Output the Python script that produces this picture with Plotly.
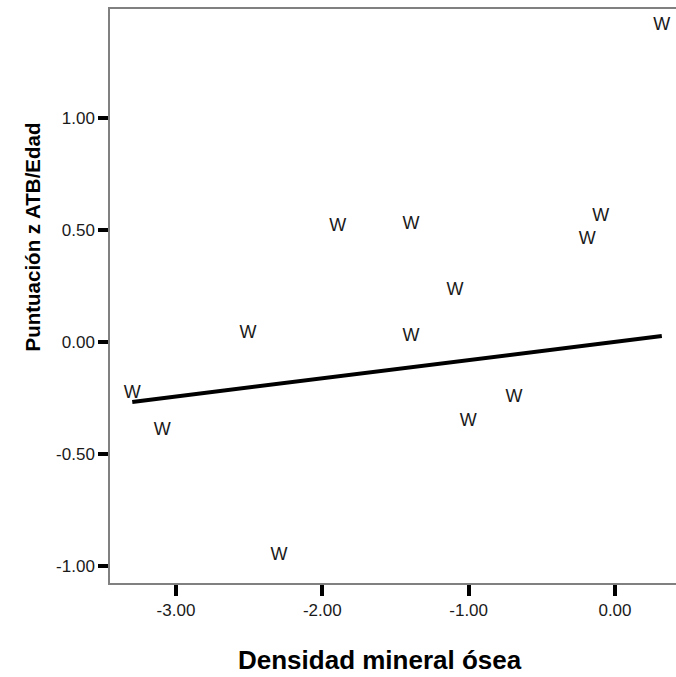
import plotly.graph_objects as go

# Data
bmd = [0.32, -1.895, -1.394, -0.189, -0.098, -1.093, -2.508, -1.394,
       -3.299, -3.094, -0.690, -1.003, -2.296]
zscore = [1.413, 0.515, 0.526, 0.459, 0.560, 0.229, 0.036, 0.024,
          -0.229, -0.393, -0.247, -0.356, -0.955]
marker_label = "W"

fit_x = [-3.299, 0.32]
fit_y = [-0.268, 0.027]

x_ticks = [-3.0, -2.0, -1.0, 0.0]
y_ticks = [-1.0, -0.5, 0.0, 0.5, 1.0]

FONT = "Liberation Sans, Arial, sans-serif"

fig = go.Figure()
fig.add_trace(go.Scatter(
    x=fit_x, y=fit_y, mode="lines",
    line=dict(color="black", width=4),
    hoverinfo="skip", showlegend=False))
fig.add_trace(go.Scatter(
    x=bmd, y=zscore, mode="text", text=[marker_label] * len(bmd),
    textposition="middle center",
    textfont=dict(family=FONT, size=18, color="#1a1a1a"),
    showlegend=False))

fig.update_layout(
    width=676, height=677,
    margin=dict(l=110, r=0, t=9, b=94),
    paper_bgcolor="white", plot_bgcolor="white",
    font=dict(family=FONT, color="#1a1a1a"),
    xaxis=dict(range=[-3.451, 0.417], tickvals=x_ticks,
               ticktext=[f"{v:.2f}" for v in x_ticks],
               showgrid=False, zeroline=False,
               showline=True, linecolor="#808080", linewidth=1.5, mirror=True,
               ticks="outside", ticklen=11, tickwidth=3.5, tickcolor="black",
               tickfont=dict(family=FONT, size=17, color="#1a1a1a")),
    yaxis=dict(range=[-1.076, 1.487], tickvals=y_ticks,
               ticktext=[f"{v:.2f}" for v in y_ticks],
               showgrid=False, zeroline=False,
               showline=True, linecolor="#808080", linewidth=1.5,
               ticks="outside", ticklen=10, tickwidth=3.5, tickcolor="black",
               tickfont=dict(family=FONT, size=17, color="#1a1a1a")),
    annotations=[
        dict(text="<b>Puntuación z ATB/Edad</b>", xref="paper", yref="paper",
             x=0, y=0.602, xshift=-78, xanchor="center", yanchor="middle",
             textangle=-90, showarrow=False,
             font=dict(family=FONT, size=20.5, color="black")),
        dict(text="<b>Densidad mineral ósea</b>", xref="paper", yref="paper",
             x=0.477, y=0, yshift=-77, xanchor="center", yanchor="middle",
             showarrow=False,
             font=dict(family=FONT, size=26, color="black")),
    ],
)

fig.write_html("out.html")
